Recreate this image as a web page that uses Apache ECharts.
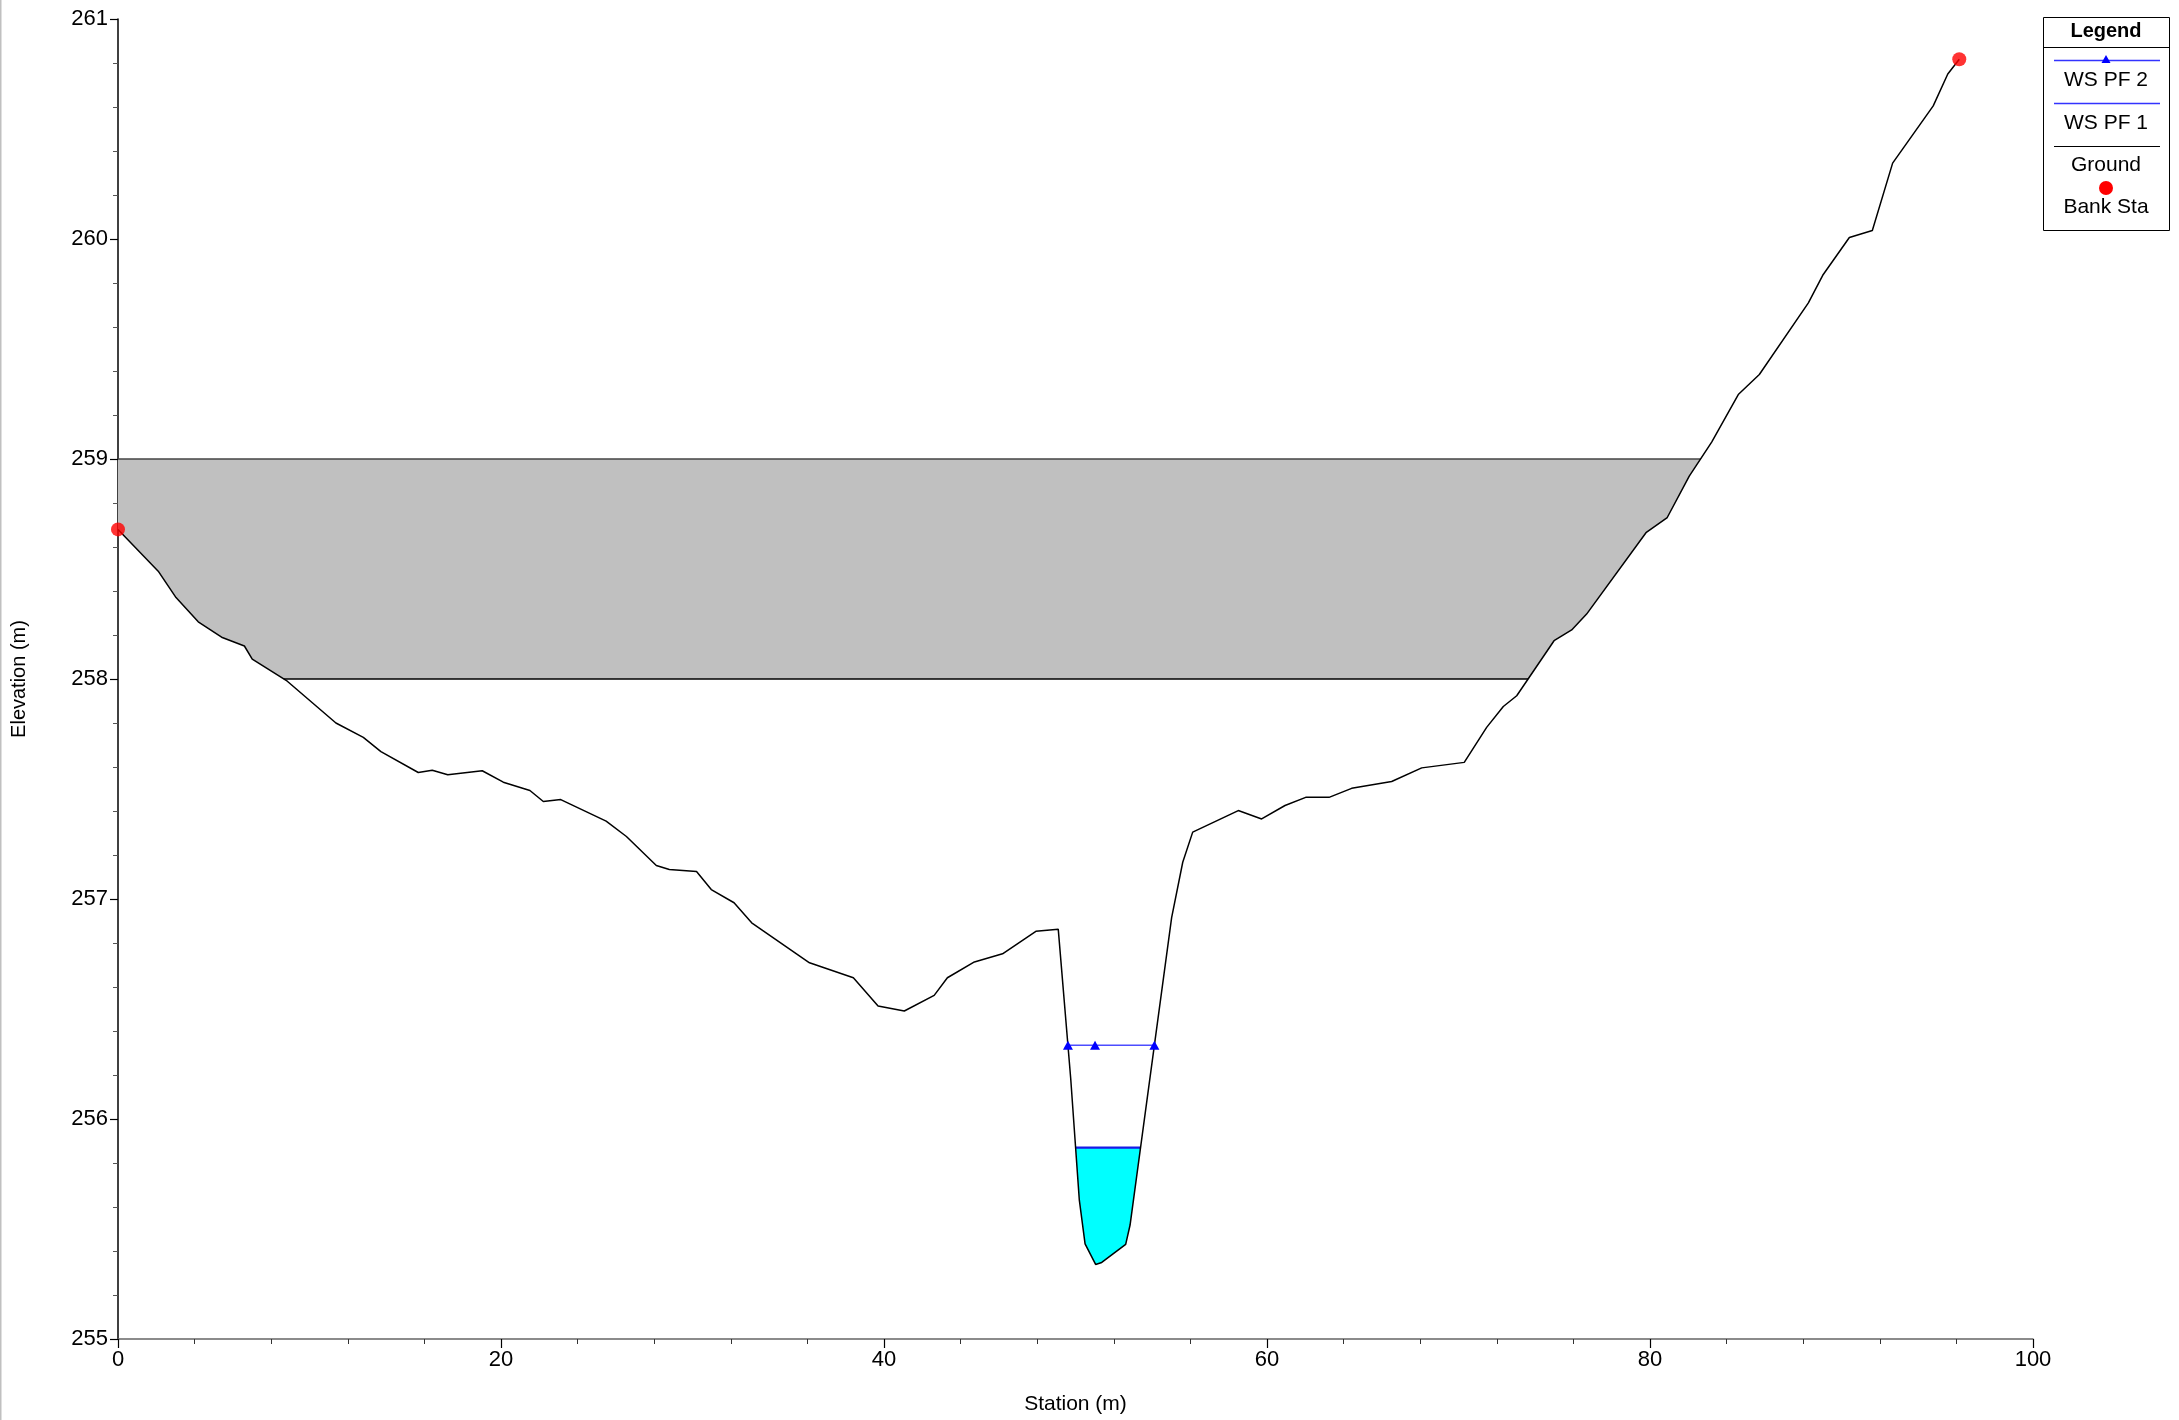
<!DOCTYPE html>
<html>
<head>
<meta charset="utf-8">
<script src="https://cdn.jsdelivr.net/npm/echarts@6/dist/echarts.min.js"></script>
<style>
html,body{margin:0;padding:0;background:#fff;}
#chart{width:2179px;height:1420px;}
</style>
</head>
<body>
<div id="chart"></div>
<script>
// ---- data ----
const groundStation = [0, 2.10, 3.03, 4.19, 5.41, 6.60, 7.01, 8.84, 11.38, 12.81, 13.73, 15.68, 16.41, 17.22, 19.02, 20.12, 21.51, 22.21, 23.12, 25.49, 26.55, 28.11, 28.79, 30.21, 30.98, 32.17, 33.09, 36.11, 38.40, 39.69, 41.06, 42.62, 43.31, 44.72, 46.19, 47.93, 49.10, 49.75, 50.20, 50.50, 51.05, 51.37, 52.62, 52.85, 55.02, 55.60, 56.12, 58.50, 59.72, 60.94, 62.02, 63.24, 64.42, 66.51, 68.08, 70.30, 71.47, 72.34, 73.04, 74.99, 75.91, 76.69, 79.79, 80.90, 82.05, 83.22, 84.61, 85.71, 88.27, 89.02, 90.41, 91.61, 92.67, 94.79, 95.55, 96.15];
const groundElev = [258.68, 258.49, 258.37, 258.26, 258.19, 258.15, 258.09, 257.99, 257.80, 257.735, 257.67, 257.575, 257.585, 257.565, 257.583, 257.531, 257.493, 257.443, 257.452, 257.354, 257.284, 257.152, 257.134, 257.125, 257.043, 256.983, 256.892, 256.710, 256.642, 256.514, 256.491, 256.562, 256.642, 256.714, 256.751, 256.853, 256.862, 256.184, 255.631, 255.432, 255.339, 255.348, 255.430, 255.518, 256.915, 257.167, 257.304, 257.402, 257.364, 257.425, 257.462, 257.462, 257.503, 257.534, 257.596, 257.621, 257.780, 257.875, 257.924, 258.174, 258.223, 258.295, 258.665, 258.734, 258.922, 259.077, 259.293, 259.384, 259.710, 259.835, 260.007, 260.039, 260.345, 260.605, 260.750, 260.817];
const bankStaStation = [0, 96.15];
const bankStaElev = [258.68, 260.817];
const wsPf1Elev = 255.87;
const wsPf2Elev = 256.335;
const wsPf2MidStation = [51.02];
const deckHighChord = 259.0;
const deckLowChord = 258.0;
const xTicks = [0, 20, 40, 60, 80, 100];
const yTicks = [255, 256, 257, 258, 259, 260, 261];

// ---- helpers ----
const FONT = "'Liberation Sans', Arial, sans-serif";
const ground = groundStation.map((x, i) => [x, groundElev[i]]);

function regionPolygon(T, B) {
  const pts = [];
  for (let i = 0; i < ground.length; i++) {
    const [x, y] = ground[i];
    if (y < T) pts.push([x, Math.max(y, B)]);
    if (i < ground.length - 1) {
      const [x2, y2] = ground[i + 1];
      for (const L of [T, B]) {
        if (isFinite(L) && (y - L) * (y2 - L) < 0) {
          pts.push([x + (L - y) * (x2 - x) / (y2 - y), L]);
        }
      }
    }
  }
  pts.sort((a, b) => a[0] - b[0]);
  const first = pts[0], last = pts[pts.length - 1];
  return pts.concat([[last[0], T], [first[0], T]]);
}
function crossings(L) {
  const xs = [];
  for (let i = 0; i < ground.length - 1; i++) {
    const [x, y] = ground[i], [x2, y2] = ground[i + 1];
    if ((y - L) * (y2 - L) < 0) xs.push(x + (L - y) * (x2 - x) / (y2 - y));
  }
  return xs;
}
const deckPoly = regionPolygon(deckHighChord, deckLowChord);
const wsPf1Poly = regionPolygon(wsPf1Elev, -Infinity);
const pf1X = crossings(wsPf1Elev);
const pf2X = crossings(wsPf2Elev);
const deckTopX = crossings(deckHighChord);
const deckLowX = crossings(deckLowChord);

function polySeries(poly, fill, stroke, z) {
  return {
    type: 'custom', z: z, silent: true, clip: true,
    data: [[poly[0][0], poly[0][1]]],
    encode: { x: 0, y: 1 },
    renderItem: function (params, api) {
      const points = poly.map(p => api.coord(p));
      return { type: 'polygon', shape: { points: points },
        style: { fill: fill, stroke: stroke, lineWidth: stroke ? 1 : 0 } };
    }
  };
}

const chart = echarts.init(document.getElementById('chart'), null, { renderer: 'canvas' });

// legend drawn as graphic box
const LX = 2043, LW = 126, LCX = LX + LW / 2;
const legendGraphics = [
  { type: 'rect', shape: { x: LX + 0.5, y: 17.5, width: LW, height: 213 }, style: { fill: '#fff', stroke: '#000', lineWidth: 1 }, z: 100 },
  { type: 'line', shape: { x1: LX, y1: 47.5, x2: LX + LW, y2: 47.5 }, style: { stroke: '#000', lineWidth: 1 }, z: 101 },
  { type: 'text', x: LCX, y: 31, style: { text: 'Legend', font: 'bold 20px ' + FONT, fill: '#000', align: 'center', verticalAlign: 'middle' }, z: 101 },
  { type: 'line', shape: { x1: 2054, y1: 60.5, x2: 2160, y2: 60.5 }, style: { stroke: '#3333ff', lineWidth: 1.5 }, z: 101 },
  { type: 'polygon', shape: { points: [[LCX - 4.5, 63], [LCX + 4.5, 63], [LCX, 55]] }, style: { fill: '#0000ff' }, z: 102 },
  { type: 'text', x: LCX, y: 80, style: { text: 'WS PF 2', font: '21px ' + FONT, fill: '#000', align: 'center', verticalAlign: 'middle' }, z: 101 },
  { type: 'line', shape: { x1: 2054, y1: 103.5, x2: 2160, y2: 103.5 }, style: { stroke: '#3333ff', lineWidth: 1.5 }, z: 101 },
  { type: 'text', x: LCX, y: 123, style: { text: 'WS PF 1', font: '21px ' + FONT, fill: '#000', align: 'center', verticalAlign: 'middle' }, z: 101 },
  { type: 'line', shape: { x1: 2054, y1: 146.5, x2: 2160, y2: 146.5 }, style: { stroke: '#000', lineWidth: 1.2 }, z: 101 },
  { type: 'text', x: LCX, y: 165, style: { text: 'Ground', font: '21px ' + FONT, fill: '#000', align: 'center', verticalAlign: 'middle' }, z: 101 },
  { type: 'circle', shape: { cx: LCX, cy: 188, r: 7 }, style: { fill: '#ff0000' }, z: 101 },
  { type: 'text', x: LCX, y: 207, style: { text: 'Bank Sta', font: '21px ' + FONT, fill: '#000', align: 'center', verticalAlign: 'middle' }, z: 101 },
  { type: 'rect', shape: { x: 0, y: 0, width: 1.5, height: 1420 }, style: { fill: '#c0c0c0' }, z: 100 }
];

const option = {
  animation: false,
  backgroundColor: '#ffffff',
  textStyle: { fontFamily: FONT },
  grid: { left: 118, right: 146, top: 19, bottom: 79, containLabel: false },
  xAxis: {
    type: 'value', min: xTicks[0], max: xTicks[xTicks.length - 1], interval: xTicks[1] - xTicks[0],
    name: 'Station (m)', nameLocation: 'middle', nameGap: 55,
    nameTextStyle: { fontSize: 21, color: '#000', fontFamily: FONT },
    axisLine: { show: true, onZero: false, lineStyle: { color: '#666', width: 1.5 } },
    axisTick: { show: true, length: 9, lineStyle: { color: '#000', width: 1.2 } },
    minorTick: { show: true, splitNumber: 5, length: 5, lineStyle: { color: '#333', width: 1 } },
    splitLine: { show: false },
    axisLabel: { fontSize: 22, color: '#000', margin: 10, fontFamily: FONT }
  },
  yAxis: {
    type: 'value', min: yTicks[0], max: yTicks[yTicks.length - 1], interval: yTicks[1] - yTicks[0],
    name: 'Elevation (m)', nameLocation: 'middle', nameGap: 89, nameRotate: 90,
    nameTextStyle: { fontSize: 20, color: '#000', fontFamily: FONT },
    axisLine: { show: true, onZero: false, lineStyle: { color: '#000', width: 1.5 } },
    axisTick: { show: true, length: 8, lineStyle: { color: '#000', width: 1.2 } },
    minorTick: { show: true, splitNumber: 5, length: 5, lineStyle: { color: '#555', width: 1 } },
    splitLine: { show: false },
    axisLabel: { fontSize: 22, color: '#000', margin: 10, fontFamily: FONT }
  },
  graphic: legendGraphics,
  series: [
    polySeries(deckPoly, '#c0c0c0', null, 1),
    {
      type: 'line', z: 2, silent: true, symbol: 'none',
      data: [[0, deckHighChord], [deckTopX[deckTopX.length - 1], deckHighChord]],
      lineStyle: { color: '#444', width: 1.3 }
    },
    {
      type: 'line', z: 2, silent: true, symbol: 'none',
      data: [[deckLowX[0], deckLowChord], [deckLowX[deckLowX.length - 1], deckLowChord]],
      lineStyle: { color: '#000', width: 1.3 }
    },
    polySeries(wsPf1Poly, '#00ffff', null, 3),
    {
      name: 'WS PF 1', type: 'line', z: 4, silent: true, symbol: 'none',
      data: [[pf1X[0], wsPf1Elev], [pf1X[pf1X.length - 1], wsPf1Elev]],
      lineStyle: { color: '#1a1ae6', width: 2.2 }
    },
    {
      name: 'Ground', type: 'line', z: 5, silent: true, symbol: 'none',
      data: ground,
      lineStyle: { color: '#000', width: 1.5 }
    },
    {
      name: 'WS PF 2', type: 'line', z: 6, silent: true,
      symbol: 'triangle', symbolSize: [10, 9], showAllSymbol: true,
      data: [[pf2X[0], wsPf2Elev]].concat(wsPf2MidStation.map(x => [x, wsPf2Elev])).concat([[pf2X[pf2X.length - 1], wsPf2Elev]]),
      lineStyle: { color: '#4d4dff', width: 1.6 },
      itemStyle: { color: '#0000ff' }
    },
    {
      name: 'Bank Sta', type: 'scatter', z: 7, silent: true, clip: false,
      symbol: 'circle', symbolSize: 14,
      data: bankStaStation.map((x, i) => [x, bankStaElev[i]]),
      itemStyle: { color: '#ff0000' }
    }
  ]
};
chart.setOption(option);
</script>
</body>
</html>
